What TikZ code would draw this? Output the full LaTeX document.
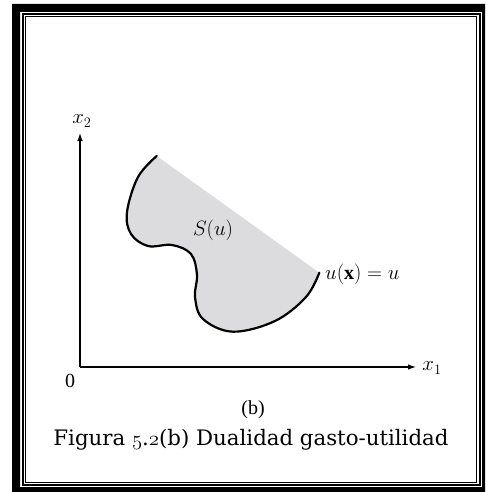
\documentclass[tikz,border=0pt]{standalone}
\usepackage{fontspec}
\setmainfont{Liberation Serif}
\newfontfamily\capfont{DejaVu Serif}
\newcommand\osfdigit[1]{{\usefont{OML}{cmm}{m}{it}#1}}
\usetikzlibrary{arrows.meta}
\definecolor{regiongray}{RGB}{220,220,222}
\tikzset{
  axis/.style={line width=1.1pt, -{Latex[length=8pt,width=5.5pt]}},
  level/.style={line width=2.2pt, line cap=round},
  lbl/.style={inner sep=0pt, font=\fontsize{20}{20}\selectfont},
}
\begin{document}
\begin{tikzpicture}[x=1pt, y=-1pt]
    \useasboundingbox (0,0) rectangle (485,492);
    % frame
    \fill[black, even odd rule] (12,4) rectangle (485,492) (20,12) rectangle (482,487);
    \draw[line width=2pt] (23,14) rectangle (479.5,484.5);
    \draw[line width=1pt] (25.5,17) rectangle (476.5,482);
    % axes
    \coordinate (O) at (80,367);
    \coordinate (xend) at (416,367);
    \coordinate (yend) at (80,133);
    \draw[axis] (O) -- (xend);
    \draw[axis] (O) -- (yend);
    \node[lbl] (xlab) at (432,368) {$x_1$};
    \node[lbl] (ylab) at (82,121) {$x_2$};
    \node[lbl] (zero) at (70,381) {0};
    % upper contour set
    \fill[regiongray] plot[smooth, tension=0.6] coordinates {(156.7,156) (138,177) (127,212) (131,234) (148,246) (172,245) (191,254) (197,275) (195,297) (203,319) (233,331.7) (275,321) (306,297) (319.3,272.7)} -- cycle;
    \draw[level] plot[smooth, tension=0.6] coordinates {(156.7,156) (138,177) (127,212) (131,234) (148,246) (172,245) (191,254) (197,275) (195,297) (203,319) (233,331.7) (275,321) (306,297) (319.3,272.7)};
    \node[lbl] (set) at (213,230) {$S(u)$};
    \node[lbl, anchor=west] (curve) at (325,274) {$u(\mathbf{x}) = u$};
    % caption
    \node[lbl] (part) at (253,410) {(b)};
    \node[inner sep=0pt, font=\capfont\fontsize{21.3}{24}\selectfont] (caption) at (251,440)
        {Figura \osfdigit{5}.\osfdigit{2}(b) Dualidad gasto-utilidad};
\end{tikzpicture}
\end{document}
